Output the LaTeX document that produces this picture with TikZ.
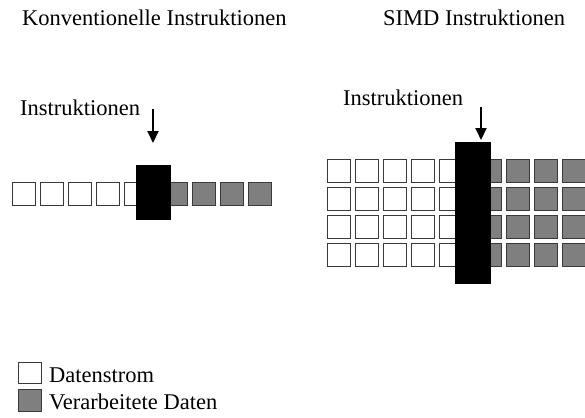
\documentclass[tikz,border=0pt]{standalone}
\usepackage{fontspec}
\setmainfont{Liberation Serif}
\usetikzlibrary{arrows.meta}

\definecolor{datagray}{HTML}{7F7F7F}
\definecolor{edgegray}{HTML}{3A3A3A}

\tikzset{
  txt/.style={anchor=base west, inner sep=0pt, font=\fontsize{22.5}{26}\selectfont},
  cell/.style={draw=edgegray, line width=0.9pt},
  rawcell/.style={cell, fill=white},
  donecell/.style={cell, fill=datagray},
  bar/.style={fill=black, draw=none},
  instrarrow/.style={line width=2pt, -{Triangle[width=11pt,length=12pt]}}
}

\begin{document}
\begin{tikzpicture}[x=1pt,y=-1pt]
  \useasboundingbox (0,0) rectangle (585,417);

  % headings
  \node[txt] (titleL) at (22,26) {Konventionelle Instruktionen};
  \node[txt] (titleR) at (383,26) {SIMD Instruktionen};

  % ---- conventional: one data stream ----
  \node[txt] (labelL) at (20,115) {Instruktionen};
  \foreach \x in {12,40,68,96,124}
    \draw[rawcell] (\x,182) rectangle ++(23,23);
  \foreach \x in {164,192,220,248}
    \draw[donecell] (\x,182) rectangle ++(23,23);
  \node[bar, minimum width=35pt, minimum height=55pt, inner sep=0pt] (barL) at (153.5,192.5) {};
  \coordinate (arrLtop) at (153,109);
  \coordinate (arrLtip) at (153,143);
  \draw[instrarrow] (arrLtop) -- (arrLtip);

  % ---- SIMD: four data streams ----
  \node[txt] (labelR) at (343,106) {Instruktionen};
  \foreach \y in {159,187,215,243}{
    \foreach \x in {327,355,383,411,439}
      \draw[rawcell] (\x,\y) rectangle ++(23,23);
    \foreach \x in {478,506,534,562}
      \draw[donecell] (\x,\y) rectangle ++(23,23);
  }
  \node[bar, minimum width=36pt, minimum height=142pt, inner sep=0pt] (barR) at (473,213) {};
  \coordinate (arrRtop) at (481,107);
  \coordinate (arrRtip) at (481,140);
  \draw[instrarrow] (arrRtop) -- (arrRtip);

  % ---- legend ----
  \draw[rawcell] (18,362) rectangle ++(23,21);
  \draw[donecell] (18,389) rectangle ++(23,22);
  \node[txt] (legRaw) at (49,382) {Datenstrom};
  \node[txt] (legDone) at (49,409) {Verarbeitete Daten};
\end{tikzpicture}
\end{document}
